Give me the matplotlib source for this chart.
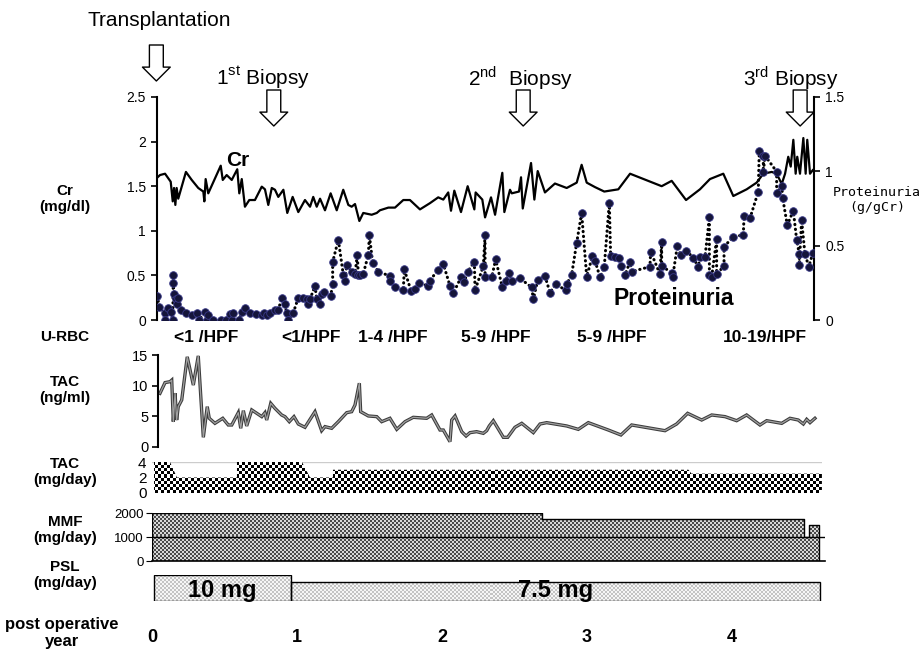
import numpy as np
import matplotlib
matplotlib.use("Agg")
import matplotlib.pyplot as plt
from matplotlib import font_manager
from matplotlib.colors import ListedColormap
from matplotlib.ticker import FormatStrFormatter
from matplotlib.transforms import blended_transform_factory

# ---- data (x = post operative year) ----
cr_years = [0.032, 0.055, 0.090, 0.129, 0.143, 0.152, 0.161, 0.170, 0.181, 0.234,
            0.274, 0.319, 0.354, 0.361, 0.370, 0.388, 0.474, 0.488, 0.515, 0.550,
            0.588, 0.602, 0.619, 0.641, 0.671, 0.710, 0.757, 0.779, 0.802, 0.826,
            0.848, 0.871, 0.906, 0.933, 0.970, 1.009, 1.055, 1.090, 1.112, 1.136,
            1.159, 1.193, 1.232, 1.274, 1.319, 1.354, 1.377, 1.400, 1.430, 1.457,
            1.515, 1.550, 1.572, 1.630, 1.676, 1.733, 1.779, 1.848, 1.917, 1.974,
            2.009, 2.043, 2.062, 2.085, 2.131, 2.177, 2.223, 2.232, 2.278, 2.297,
            2.338, 2.366, 2.416, 2.430, 2.469, 2.481, 2.531, 2.545, 2.557, 2.614,
            2.637, 2.660, 2.710, 2.779, 2.860, 2.929, 2.963, 2.998, 3.055, 3.119,
            3.216, 3.297, 3.515, 3.584, 3.683, 3.779, 3.848, 3.940, 4.009, 4.101,
            4.170, 4.216, 4.274, 4.308, 4.343, 4.366, 4.388, 4.405, 4.423, 4.439,
            4.450, 4.469, 4.492, 4.508, 4.519, 4.538, 4.557]
cr_values = [1.59, 1.625, 1.64, 1.55, 1.33, 1.48, 1.29, 1.48, 1.36, 1.66,
             1.57, 1.48, 1.44, 1.33, 1.58, 1.42, 1.73, 1.57, 1.625, 1.57,
             1.69, 1.42, 1.58, 1.27, 1.345, 1.345, 1.495, 1.465, 1.29, 1.48,
             1.46, 1.38, 1.46, 1.20, 1.38, 1.21, 1.345, 1.27, 1.38, 1.27,
             1.36, 1.23, 1.42, 1.23, 1.46, 1.29, 1.27, 1.30, 1.11, 1.20,
             1.18, 1.20, 1.23, 1.26, 1.26, 1.345, 1.345, 1.24, 1.31, 1.375,
             1.35, 1.43, 1.225, 1.45, 1.21, 1.50, 1.24, 1.43, 1.35, 1.15,
             1.375, 1.18, 1.65, 1.21, 1.46, 1.42, 1.44, 1.60, 1.25, 1.76,
             1.35, 1.67, 1.43, 1.53, 1.48, 1.54, 1.74, 1.54, 1.49, 1.44,
             1.465, 1.64, 1.50, 1.56, 1.345, 1.465, 1.58, 1.64, 1.39, 1.465,
             1.54, 1.64, 1.66, 1.64, 1.525, 1.64, 1.83, 1.72, 2.02, 1.64,
             1.83, 1.64, 2.04, 1.64, 2.02, 1.64, 1.68]

prot_years = [0.037, 0.051, 0.090, 0.090, 0.113, 0.129, 0.143, 0.147, 0.147, 0.152,
              0.166, 0.175, 0.182, 0.198, 0.234, 0.274, 0.313, 0.326, 0.366, 0.377,
              0.388, 0.423, 0.474, 0.510, 0.538, 0.549, 0.561, 0.602, 0.618, 0.641,
              0.676, 0.717, 0.756, 0.772, 0.791, 0.814, 0.848, 0.871, 0.894, 0.917,
              0.929, 0.940, 0.975, 1.009, 1.044, 1.067, 1.078, 1.090, 1.124, 1.136,
              1.159, 1.170, 1.186, 1.232, 1.246, 1.246, 1.285, 1.320, 1.331, 1.343,
              1.377, 1.400, 1.416, 1.423, 1.434, 1.457, 1.492, 1.499, 1.522, 1.561,
              1.641, 1.641, 1.676, 1.733, 1.740, 1.786, 1.814, 1.841, 1.906, 1.917,
              1.970, 2.009, 2.055, 2.078, 2.131, 2.154, 2.177, 2.223, 2.228, 2.285,
              2.297, 2.297, 2.343, 2.370, 2.416, 2.439, 2.462, 2.485, 2.538, 2.618,
              2.630, 2.660, 2.710, 2.745, 2.784, 2.853, 2.860, 2.894, 2.929, 2.963,
              2.998, 3.037, 3.055, 3.090, 3.119, 3.154, 3.163, 3.193, 3.223, 3.232,
              3.262, 3.297, 3.308, 3.434, 3.439, 3.503, 3.515, 3.515, 3.584, 3.591,
              3.623, 3.646, 3.683, 3.733, 3.768, 3.779, 3.814, 3.844, 3.844, 3.860,
              3.894, 3.894, 3.945, 3.945, 4.009, 4.078, 4.083, 4.124, 4.181, 4.188,
              4.216, 4.216, 4.228, 4.308, 4.308, 4.343, 4.350, 4.381, 4.423, 4.446,
              4.464, 4.464, 4.480, 4.503, 4.530, 4.557]
prot_values = [0.16, 0.085, 0.045, 0.0, 0.08, 0.056, 0.0, 0.30, 0.25, 0.175,
               0.14, 0.11, 0.146, 0.067, 0.045, 0.034, 0.05, 0.0, 0.056, 0.0,
               0.034, 0.0, 0.0, 0.0, 0.04, 0.0, 0.045, 0.0, 0.056, 0.08,
               0.05, 0.04, 0.034, 0.05, 0.034, 0.045, 0.067, 0.067, 0.146, 0.11,
               0.045, 0.0, 0.05, 0.15, 0.15, 0.14, 0.11, 0.14, 0.23, 0.14,
               0.11, 0.175, 0.19, 0.16, 0.24, 0.39, 0.54, 0.30, 0.26, 0.37,
               0.325, 0.31, 0.44, 0.30, 0.30, 0.31, 0.44, 0.57, 0.385, 0.325,
               0.296, 0.264, 0.22, 0.20, 0.34, 0.197, 0.206, 0.247, 0.23, 0.264,
               0.336, 0.377, 0.23, 0.18, 0.287, 0.258, 0.325, 0.392, 0.20, 0.363,
               0.572, 0.287, 0.287, 0.408, 0.22, 0.264, 0.318, 0.264, 0.28, 0.22,
               0.139, 0.269, 0.296, 0.184, 0.242, 0.20, 0.242, 0.303, 0.52, 0.72,
               0.29, 0.43, 0.40, 0.287, 0.358, 0.79, 0.43, 0.426, 0.415, 0.363,
               0.303, 0.392, 0.325, 0.359, 0.46, 0.309, 0.527, 0.363, 0.318, 0.291,
               0.498, 0.437, 0.466, 0.42, 0.354, 0.426, 0.426, 0.69, 0.303, 0.291,
               0.543, 0.309, 0.363, 0.493, 0.56, 0.572, 0.70, 0.684, 0.863, 1.14,
               1.10, 0.998, 1.105, 0.998, 0.856, 0.90, 0.818, 0.639, 0.735, 0.538,
               0.444, 0.37, 0.672, 0.444, 0.359, 0.449]

tac_years = [0.055, 0.090, 0.124, 0.136, 0.147, 0.159, 0.170, 0.181, 0.205, 0.243,
             0.285, 0.319, 0.354, 0.381, 0.395, 0.434, 0.488, 0.526, 0.550, 0.595,
             0.612, 0.630, 0.653, 0.688, 0.757, 0.779, 0.791, 0.819, 0.848, 0.894,
             0.917, 0.947, 0.979, 1.009, 1.055, 1.124, 1.170, 1.193, 1.239, 1.285,
             1.343, 1.377, 1.400, 1.430, 1.439, 1.492, 1.550, 1.584, 1.641, 1.688,
             1.745, 1.802, 1.894, 1.929, 1.986, 2.009, 2.055, 2.067, 2.090, 2.136,
             2.166, 2.193, 2.239, 2.285, 2.308, 2.326, 2.354, 2.423, 2.453, 2.503,
             2.550, 2.630, 2.676, 2.722, 2.860, 2.940, 3.009, 3.147, 3.234, 3.308,
             3.538, 3.618, 3.694, 3.791, 3.860, 3.952, 4.032, 4.101, 4.193, 4.239,
             4.343, 4.400, 4.457, 4.492, 4.515, 4.538, 4.572]
tac_values = [8.75, 10.5, 10.65, 10.9, 4.13, 8.75, 4.4, 6.58, 7.67, 14.7,
              10.1, 14.85, 1.58, 6.58, 4.68, 3.86, 4.68, 3.59, 3.59, 5.6,
              3.05, 5.93, 3.43, 6.04, 4.95, 5.6, 4.4, 7.12, 6.31, 5.22,
              4.95, 4.13, 4.95, 3.75, 3.21, 5.76, 2.66, 3.32, 3.05, 4.13,
              5.6, 5.76, 6.85, 10.4, 5.76, 5.06, 4.95, 4.13, 4.68, 2.88,
              4.13, 4.84, 4.68, 5.22, 2.77, 2.77, 0.87, 4.4, 5.06, 2.5,
              1.79, 2.34, 2.5, 2.23, 2.66, 3.43, 4.29, 1.58, 1.58, 3.21,
              3.86, 2.34, 3.75, 3.97, 3.43, 2.88, 3.97, 2.77, 1.96, 3.59,
              2.66, 3.75, 5.49, 4.4, 5.22, 4.95, 4.29, 5.22, 3.59, 4.29,
              3.86, 4.68, 4.4, 3.75, 4.51, 3.97, 4.68]

tac_dose_years = [0.014, 0.124, 0.172, 0.586, 0.586, 1.034, 1.090, 1.248, 1.248, 3.70, 3.72, 4.62]
tac_dose_mg = [4, 4, 2, 2, 4, 4, 2, 2, 3, 3, 2.5, 2.5]

mmf_years = [0.0, 2.688, 4.497, 4.528, 4.602]
mmf_mg = [2000, 1750, 1000, 1500, 1500]

psl_start = [0.014, 0.959]
psl_end = [0.959, 4.607]
psl_dose = [10, 7.5]

urbc_years = [0.372, 1.097, 1.662, 2.372, 3.172, 4.228]
urbc_labels = ["<1 /HPF", "<1/HPF", "1-4 /HPF", "5-9 /HPF", "5-9 /HPF", "10-19/HPF"]

events = ["Transplantation", "1$^{\\mathregular{st}}$ Biopsy",
          "2$^{\\mathregular{nd}}$  Biopsy", "3$^{\\mathregular{rd}}$ Biopsy"]
event_years = [0.03, 0.84, 2.56, 4.47]

years = [0, 1, 2, 3, 4]

# ---- fonts ----
plt.rcParams['font.family'] = ['Liberation Sans', 'DejaVu Sans']
names = {f.name for f in font_manager.fontManager.ttflist}
NARROW = 'Liberation Sans Narrow' if 'Liberation Sans Narrow' in names else 'Liberation Sans'

W, H = 922, 652
fig = plt.figure(figsize=(W / 100, H / 100), dpi=100)

YEAR0_PX = 152
PX_PER_YEAR = 145


def add_ax(x0, y0, x1, y1):
    ax = fig.add_axes([x0 / W, 1 - y1 / H, (x1 - x0) / W, (y1 - y0) / H])
    ax.set_xlim((x0 - YEAR0_PX) / PX_PER_YEAR, (x1 - YEAR0_PX) / PX_PER_YEAR)
    ax.patch.set_alpha(0)
    for s in ax.spines.values():
        s.set_visible(False)
    return ax


def checker_fill(ax, x, y, cell, colors, step=None):
    poly = ax.fill_between(x, y, 0, step=step, facecolor='none', edgecolor='none')
    nx = int(round(ax.bbox.width / cell))
    ny = int(round(ax.bbox.height / cell))
    board = np.indices((ny, nx)).sum(axis=0) % 2
    x0, x1 = ax.get_xlim()
    y0, y1 = ax.get_ylim()
    im = ax.imshow(board, cmap=ListedColormap(colors), extent=(x0, x1, y0, y1),
                   origin='lower', aspect='auto', interpolation='nearest', zorder=1)
    im.set_clip_path(poly.get_paths()[0], ax.transData)
    return poly


def left_label(text, py, **kw):
    fig.text(65 / W, 1 - py / H, text, ha='center', va='center', fontsize=11,
             fontweight='bold', linespacing=1.25, **kw)


# ---- Cr / proteinuria ----
ax_cr = add_ax(157, 97, 814, 320)
ax_cr.plot(cr_years, cr_values, color='black', lw=1.6, zorder=3)
ax_cr.set_ylim(0, 2.5)
ax_cr.set_yticks([0, 0.5, 1, 1.5, 2, 2.5])
ax_cr.yaxis.set_major_formatter(FormatStrFormatter('%g'))
ax_cr.spines['left'].set_visible(True)
ax_cr.spines['left'].set_linewidth(1.5)
ax_cr.tick_params(axis='y', direction='out', length=4, width=1.2, labelsize=10, pad=4)
ax_cr.tick_params(axis='x', bottom=False, labelbottom=False)
ax_cr.text(0.593, 1.79, "Cr", fontsize=15, fontweight='bold', ha='center', va='center')

ax_p = ax_cr.twinx()
for s in ax_p.spines.values():
    s.set_visible(False)
ax_p.spines['right'].set_visible(True)
ax_p.spines['right'].set_linewidth(1.5)
ax_p.plot(prot_years, prot_values, color='black', lw=2.2, ls=(0, (0.1, 1.5)),
          dash_capstyle='round', marker='o', ms=5.5, mfc='#15153a', mec='#3a3a8a',
          mew=0.6, zorder=3)
ax_p.set_ylim(0, 1.5)
ax_p.set_yticks([0, 0.5, 1, 1.5])
ax_p.yaxis.set_major_formatter(FormatStrFormatter('%g'))
ax_p.tick_params(axis='y', direction='out', length=4, width=1.2, labelsize=10, pad=4)
ax_p.text(3.6, 0.145, "Proteinuria", fontsize=16.5, fontweight='bold', ha='center', va='center')
fig.text(877 / W, 1 - 200 / H, "Proteinuria\n(g/gCr)", ha='center', va='center',
         fontsize=9.5, family='DejaVu Sans Mono', linespacing=1.3)

# event arrows and titles
ev_trans = blended_transform_factory(ax_cr.transData, fig.transFigure)
arrow_style = 'simple,head_length=0.5,head_width=1.0,tail_width=0.5'
text_pos = [(159, 20), (263, 78), (520, 78), (791, 78)]
arrow_top = [45, 90, 90, 90]
for name, yr, (tx, ty), top in zip(events, event_years, text_pos, arrow_top):
    fig.text(tx / W, 1 - ty / H, name, ha='center', va='center', fontsize=15)
    ax_cr.annotate('', xy=(yr, 1 - (top + 36) / H), xytext=(yr, 1 - top / H),
                   xycoords=ev_trans, textcoords=ev_trans, annotation_clip=False,
                   arrowprops=dict(arrowstyle=arrow_style, fc='white', ec='black',
                                   lw=1, shrinkA=0, shrinkB=0, mutation_scale=20))

# ---- U-RBC row ----
for yr, lab in zip(urbc_years, urbc_labels):
    ax_cr.text(yr, 1 - 337 / H, lab, transform=ev_trans, ha='center', va='center',
               fontsize=12.5, fontweight='bold')

# ---- TAC level ----
ax_tac = add_ax(158, 355, 822, 447)
ax_tac.plot(tac_years, tac_values, color='#3c3c3c', lw=2.4, solid_joinstyle='miter')
ax_tac.plot(tac_years, tac_values, color='#a0a0a0', lw=0.9)
ax_tac.set_ylim(0, 15)
ax_tac.set_yticks([0, 5, 10, 15])
ax_tac.spines['left'].set_visible(True)
ax_tac.spines['left'].set_linewidth(1.5)
ax_tac.tick_params(axis='y', direction='out', length=4, width=1.2, labelsize=10.5, pad=3)
ax_tac.tick_params(axis='x', bottom=False, labelbottom=False)

# ---- TAC dose ----
ax_td = add_ax(152, 462, 822, 493)
ax_td.set_ylim(0, 4)
ax_td.axhline(4, color='#cccccc', lw=1, zorder=0)
checker_fill(ax_td, tac_dose_years, tac_dose_mg, 3, ['white', 'black'])
ax_td.set_yticks([0, 2, 4])
ax_td.tick_params(axis='y', length=0, labelsize=11, pad=4)
ax_td.tick_params(axis='x', bottom=False, labelbottom=False)

# ---- MMF ----
ax_m = add_ax(152, 513, 825, 561)
ax_m.set_ylim(0, 2000)
mmf_poly = checker_fill(ax_m, mmf_years, mmf_mg, 2, ['#4a4a4a', '#d8d8d8'], step='post')
mmf_poly.set_edgecolor('black')
mmf_poly.set_linewidth(1)
mmf_poly.set_zorder(3)
ax_m.axhline(1000, color='black', lw=1, zorder=4)
ax_m.spines['bottom'].set_visible(True)
ax_m.spines['bottom'].set_linewidth(1.2)
ax_m.set_yticks([0, 1000, 2000])
ax_m.tick_params(axis='y', direction='out', length=4, width=0.8, pad=2)
for t in ax_m.get_yticklabels():
    t.set_family(NARROW)
    t.set_fontsize(9.5)
ax_m.tick_params(axis='x', bottom=False, labelbottom=False)

# ---- PSL ----
ax_psl = add_ax(150, 575, 822, 601)
ax_psl.set_ylim(0, 10)
psl_poly_x = psl_start + [psl_end[-1]]
psl_poly_y = psl_dose + [psl_dose[-1]]
checker_fill(ax_psl, psl_poly_x, psl_poly_y, 2, ['#f6f6f6', '#c4c4c4'], step='post')
widths = [e - s for s, e in zip(psl_start, psl_end)]
ax_psl.bar(psl_start, psl_dose, widths, align='edge', fc='none', ec='black', lw=1, zorder=3)
for s, w, d in zip(psl_start, widths, psl_dose):
    ax_psl.text(s + w / 2, 4.2, f"{d:g} mg", ha='center', va='center', fontsize=17,
                fontweight='bold', zorder=4)
ax_psl.set_yticks([])
ax_psl.set_xticks(years)
ax_psl.set_xticklabels([str(y) for y in years])
ax_psl.tick_params(axis='x', length=0, pad=20, labelsize=13)
for t in ax_psl.get_xticklabels():
    t.set_fontweight('bold')
    t.set_family(NARROW)

# ---- left labels ----
left_label("Cr\n(mg/dl)", 199)
left_label("U-RBC", 337)
left_label("TAC\n(ng/ml)", 390)
left_label("TAC\n(mg/day)", 472)
left_label("MMF\n(mg/day)", 530)
left_label("PSL\n(mg/day)", 575)
fig.text(62 / W, 1 - 633 / H, "post operative\nyear", ha='center', va='center',
         fontsize=12, fontweight='bold', family=NARROW, linespacing=1.2)

fig.savefig("out.png", dpi=100)
